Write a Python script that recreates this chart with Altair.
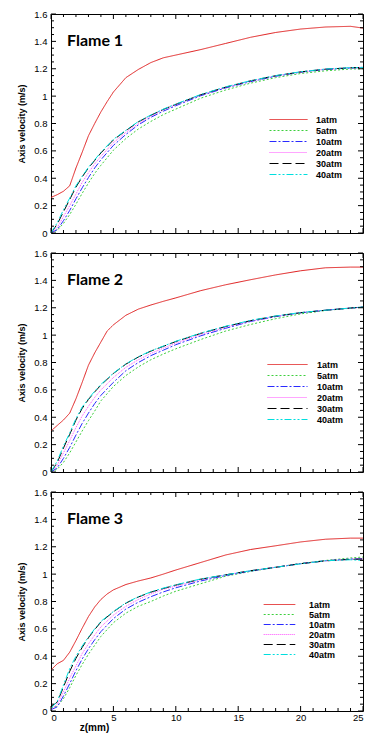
import altair as alt
import pandas as pd

FONT = "Liberation Sans"
SERIES = ["1atm", "5atm", "10atm", "20atm", "30atm", "40atm"]
COLORS = ["#e02020", "#3ccf3c", "#2a2aff", "#ff4dff", "#000000", "#00dede"]
DASHES = [[1, 0], [2, 2], [7, 2, 2, 2], [1, 1], [9, 4], [7, 2, 2, 2, 2, 2]]
TITLES = ["Flame 1", "Flame 2", "Flame 3"]

Y_LABELS = [0, 0.2, 0.4, 0.6, 0.8, 1, 1.2, 1.4, 1.6]
X_LABELS = [0, 5, 10, 15, 20, 25]
Y_MINOR = [round(0.05 * i, 2) for i in range(33) if i % 4 != 0]
X_MINOR = [i for i in range(26) if i % 5 != 0]

Z_RED = [0, 0.5, 1, 1.5, 2, 2.5, 3, 3.5, 4, 4.5, 5, 6, 7, 8, 9, 10, 12, 14, 16, 18, 20, 22, 24, 25]
Z_CL = [0, 0.5, 1, 1.5, 2, 2.5, 3, 3.5, 4, 5, 6, 7, 8, 9, 10, 12, 14, 16, 18, 20, 22, 24, 25]

# Flame 1
F1_1ATM = [0.26, 0.28, 0.305, 0.345, 0.475, 0.59, 0.71, 0.80, 0.885, 0.96, 1.03, 1.135, 1.195, 1.245, 1.28, 1.30, 1.34, 1.385, 1.43, 1.465, 1.49, 1.505, 1.51, 1.497]
F1_5ATM = [0, 0.02, 0.07, 0.135, 0.21, 0.29, 0.365, 0.435, 0.495, 0.605, 0.69, 0.76, 0.815, 0.865, 0.905, 0.985, 1.045, 1.095, 1.135, 1.165, 1.185, 1.198, 1.20]
F1_10ATM = [0, 0.025, 0.09, 0.165, 0.25, 0.33, 0.405, 0.475, 0.535, 0.64, 0.72, 0.79, 0.845, 0.89, 0.93, 1.003, 1.06, 1.106, 1.145, 1.175, 1.195, 1.205, 1.21]
F1_20ATM = [0, 0.04, 0.12, 0.2, 0.285, 0.37, 0.44, 0.505, 0.56, 0.66, 0.735, 0.80, 0.855, 0.90, 0.937, 1.008, 1.064, 1.11, 1.148, 1.176, 1.197, 1.207, 1.21]
F1_30ATM = [0, 0.065, 0.155, 0.245, 0.335, 0.41, 0.475, 0.53, 0.585, 0.68, 0.748, 0.812, 0.86, 0.903, 0.94, 1.01, 1.066, 1.112, 1.149, 1.177, 1.197, 1.207, 1.21]
F1_40ATM = [0, 0.075, 0.17, 0.255, 0.345, 0.415, 0.48, 0.535, 0.59, 0.685, 0.75, 0.815, 0.862, 0.905, 0.942, 1.012, 1.068, 1.113, 1.15, 1.178, 1.198, 1.208, 1.21]

# Flame 2
F2_1ATM = [0.30, 0.34, 0.38, 0.43, 0.535, 0.655, 0.78, 0.87, 0.95, 1.03, 1.075, 1.145, 1.19, 1.22, 1.247, 1.272, 1.325, 1.368, 1.405, 1.44, 1.47, 1.492, 1.497, 1.497]
F2_5ATM = [0, 0.02, 0.07, 0.14, 0.22, 0.30, 0.375, 0.445, 0.52, 0.625, 0.705, 0.768, 0.82, 0.862, 0.90, 0.968, 1.03, 1.078, 1.12, 1.155, 1.18, 1.197, 1.205]
F2_10ATM = [0, 0.03, 0.1, 0.18, 0.27, 0.355, 0.43, 0.5, 0.56, 0.655, 0.74, 0.8, 0.85, 0.89, 0.93, 0.995, 1.05, 1.1, 1.135, 1.163, 1.182, 1.198, 1.205]
F2_20ATM = [0, 0.05, 0.14, 0.23, 0.325, 0.41, 0.48, 0.545, 0.6, 0.69, 0.765, 0.82, 0.866, 0.905, 0.942, 1.005, 1.058, 1.103, 1.137, 1.164, 1.182, 1.198, 1.205]
F2_30ATM = [0, 0.07, 0.175, 0.275, 0.38, 0.465, 0.53, 0.585, 0.635, 0.72, 0.788, 0.84, 0.883, 0.918, 0.953, 1.013, 1.063, 1.106, 1.139, 1.164, 1.182, 1.198, 1.205]
F2_40ATM = [0, 0.08, 0.19, 0.285, 0.39, 0.475, 0.535, 0.59, 0.64, 0.722, 0.79, 0.842, 0.885, 0.92, 0.955, 1.015, 1.065, 1.108, 1.14, 1.165, 1.182, 1.198, 1.205]

# Flame 3
F3_1ATM = [0.30, 0.345, 0.37, 0.43, 0.515, 0.605, 0.69, 0.76, 0.815, 0.855, 0.885, 0.924, 0.95, 0.972, 1.0, 1.03, 1.085, 1.14, 1.18, 1.207, 1.235, 1.255, 1.263, 1.263]
F3_5ATM = [0.02, 0.035, 0.09, 0.17, 0.26, 0.34, 0.415, 0.48, 0.545, 0.645, 0.715, 0.765, 0.80, 0.84, 0.875, 0.93, 0.985, 1.02, 1.05, 1.078, 1.10, 1.118, 1.125]
F3_10ATM = [0.01, 0.03, 0.11, 0.2, 0.295, 0.38, 0.455, 0.52, 0.58, 0.675, 0.745, 0.795, 0.835, 0.87, 0.9, 0.95, 0.99, 1.022, 1.05, 1.077, 1.098, 1.11, 1.112]
F3_20ATM = [0.01, 0.05, 0.14, 0.24, 0.33, 0.42, 0.49, 0.555, 0.615, 0.70, 0.765, 0.815, 0.855, 0.89, 0.912, 0.96, 0.995, 1.025, 1.05, 1.076, 1.097, 1.108, 1.11]
F3_30ATM = [0.03, 0.065, 0.175, 0.29, 0.385, 0.465, 0.535, 0.595, 0.65, 0.725, 0.788, 0.833, 0.868, 0.895, 0.92, 0.963, 0.995, 1.025, 1.05, 1.076, 1.097, 1.108, 1.11]
F3_40ATM = [0.02, 0.07, 0.19, 0.31, 0.40, 0.475, 0.54, 0.60, 0.655, 0.727, 0.79, 0.835, 0.87, 0.898, 0.922, 0.965, 0.995, 1.025, 1.05, 1.075, 1.098, 1.105, 1.10]

PANELS = [
    [F1_1ATM, F1_5ATM, F1_10ATM, F1_20ATM, F1_30ATM, F1_40ATM],
    [F2_1ATM, F2_5ATM, F2_10ATM, F2_20ATM, F2_30ATM, F2_40ATM],
    [F3_1ATM, F3_5ATM, F3_10ATM, F3_20ATM, F3_30ATM, F3_40ATM],
]

W = 312
H = 219
MAJ, MIN = 5, 3
# legend layout per panel: legendX, legendY, symbol unit, labelOffset
LEG = [(232, 100, 9.5, 22), (231, 106, 10, 24), (224, 108, 7.9, 25)]

xs = alt.Scale(domain=[0, 25], nice=False, zero=False)
ys = alt.Scale(domain=[0, 1.6], nice=False, zero=False)

YAXIS = alt.Axis(
    values=Y_LABELS, format="~g", ticks=False, domain=False, grid=False,
    labelFont=FONT, labelFontSize=9.5, labelColor="black", labelPadding=4,
    title="Axis velocity (m/s)", titleFont=FONT, titleFontSize=9,
    titleFontWeight="bold", titlePadding=7, titleColor="black",
)
XAXIS = alt.Axis(
    values=X_LABELS, format="d", ticks=False, domain=False, grid=False,
    labelFont=FONT, labelFontSize=9.5, labelColor="black", labelPadding=1,
    title="z(mm)", titleFont=FONT, titleFontSize=10, titleFontWeight="bold",
    titleColor="black", titleX=43, titleY=19, titleAlign="center",
    titleBaseline="alphabetic",
)


def make_panel(i):
    rows = []
    for name, vals in zip(SERIES, PANELS[i]):
        zz = Z_RED if name == "1atm" else Z_CL
        for z, v in zip(zz, vals):
            rows.append({"z": z, "v": v, "p": name})
    df = pd.DataFrame(rows)
    lx, ly, q, loff = LEG[i]
    leg = alt.Legend(
        orient="none", legendX=lx, legendY=ly, title=None,
        symbolType="M-4,0H4", symbolSize=q * q, symbolStrokeWidth=1,
        labelFont=FONT, labelFontSize=9, labelFontWeight="bold", labelColor="black",
        labelOffset=loff, rowPadding=-0.6, padding=0,
    )
    xaxis = XAXIS if i == 2 else None
    X = lambda f: alt.X(f, scale=xs, axis=xaxis)
    Y = lambda f: alt.Y(f, scale=ys, axis=YAXIS)
    lines = alt.Chart(df).mark_line(strokeWidth=1, clip=True).encode(
        x=X("z:Q"),
        y=Y("v:Q"),
        color=alt.Color("p:N", scale=alt.Scale(domain=SERIES, range=COLORS), legend=leg),
        strokeDash=alt.StrokeDash("p:N", scale=alt.Scale(domain=SERIES, range=DASHES), legend=leg),
    )
    layers = [lines]
    for vals, L in ((Y_LABELS, MAJ), (Y_MINOR, MIN)):
        d = pd.DataFrame({"v": vals})
        layers.append(alt.Chart(d).mark_rule(color="black", strokeWidth=1).encode(
            y=Y("v:Q"), x=alt.value(0), x2=alt.value(L)))
        layers.append(alt.Chart(d).mark_rule(color="black", strokeWidth=1).encode(
            y=Y("v:Q"), x=alt.value(W - L), x2=alt.value(W)))
    for vals, L in ((X_LABELS, MAJ), (X_MINOR, MIN)):
        d = pd.DataFrame({"z": vals})
        layers.append(alt.Chart(d).mark_rule(color="black", strokeWidth=1).encode(
            x=X("z:Q"), y=alt.value(0), y2=alt.value(L)))
        layers.append(alt.Chart(d).mark_rule(color="black", strokeWidth=1).encode(
            x=X("z:Q"), y=alt.value(H - L), y2=alt.value(H)))
    label = alt.Chart(pd.DataFrame({"t": [TITLES[i]]})).mark_text(
        align="left", baseline="middle", font="Lato", fontSize=16,
        fontWeight="bold", color="black",
    ).encode(text="t:N", x=alt.value(16), y=alt.value(27))
    layers.append(label)
    return alt.layer(*layers).properties(width=W, height=H)


chart = alt.vconcat(*[make_panel(i) for i in range(3)], spacing=9).resolve_scale(
    color="independent", strokeDash="independent"
).resolve_legend(
    color="independent", strokeDash="independent"
).configure_view(
    stroke="black", strokeWidth=1
).properties(
    padding={"left": 9, "top": 0, "right": 0, "bottom": 1}, background="white"
)

chart.save("out.html", embed_options={"renderer": "svg", "actions": False})
